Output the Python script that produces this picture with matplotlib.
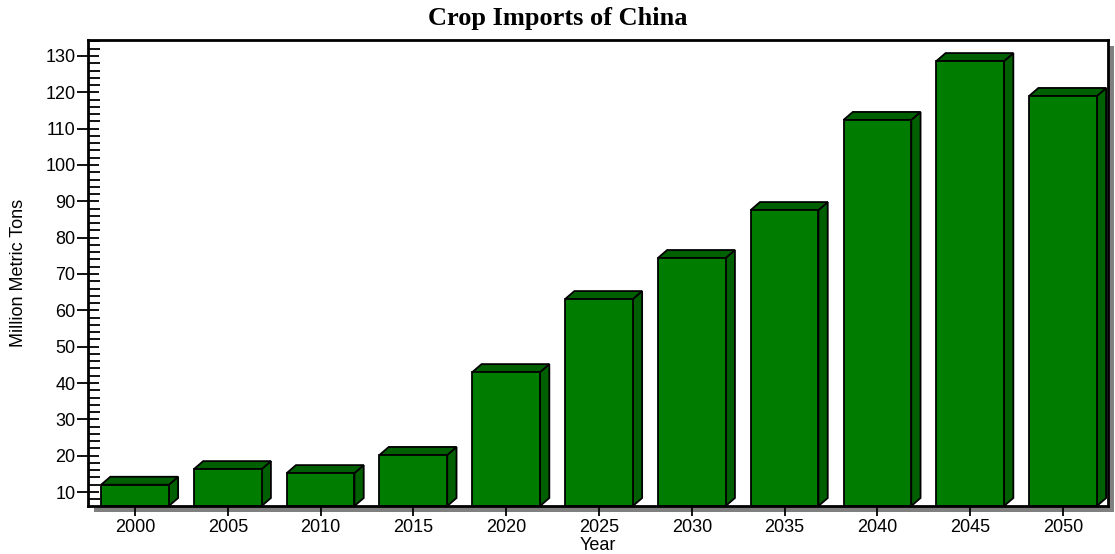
import matplotlib
matplotlib.use("Agg")
import matplotlib.pyplot as plt
import matplotlib.patches as mpatches
from matplotlib.ticker import MultipleLocator

# ── Data ───────────────────────────────────────────────────────────────────────
years = ["2000", "2005", "2010", "2015", "2020", "2025",
         "2030", "2035", "2040", "2045", "2050"]
imports = [12.0, 16.3, 15.2, 20.2, 43.0, 63.1, 74.4, 87.6, 112.4, 128.6, 119.0]

front_col = "#007c00"
dark_col = "#005f00"

# ── Figure ─────────────────────────────────────────────────────────────────────
W, H = 1115, 554
fig = plt.figure(figsize=(W / 100, H / 100), dpi=100, facecolor="white")
left, right, top, bottom = 88, 1108, 40, 506
ax = fig.add_axes([left / W, 1 - bottom / H, (right - left) / W, (bottom - top) / H])

# drop shadow behind the plot frame
shadow = mpatches.Rectangle(((left + 6) / W, 1 - (bottom + 6) / H),
                            (right - left) / W, (bottom - top) / H,
                            transform=fig.transFigure, facecolor="#808080",
                            edgecolor="none", zorder=0)
fig.patches.append(shadow)
ax.set_facecolor("white")
ax.set_zorder(1)

ax.set_xlim(-0.506, 10.485)
ax.set_ylim(6.15, 134.4)

bw = 0.73
dx, dy = 0.10, 2.2
base = 6.15
for i, v in enumerate(imports):
    x0, x1 = i - bw / 2, i + bw / 2
    # side face
    ax.add_patch(mpatches.Polygon([(x1, base), (x1 + dx, base + dy), (x1 + dx, v + dy), (x1, v)],
                                  closed=True, facecolor=dark_col, edgecolor="black",
                                  linewidth=1.3, zorder=2, clip_on=False))
    # top face
    ax.add_patch(mpatches.Polygon([(x0, v), (x0 + dx, v + dy), (x1 + dx, v + dy), (x1, v)],
                                  closed=True, facecolor=dark_col, edgecolor="black",
                                  linewidth=1.3, zorder=2, clip_on=False))
    # front face
    ax.add_patch(mpatches.Rectangle((x0, base), bw, v - base, facecolor=front_col,
                                    edgecolor="black", linewidth=1.3, zorder=3))

ax.set_xticks(range(len(years)))
ax.set_xticklabels(years)
ax.yaxis.set_major_locator(MultipleLocator(10))
ax.yaxis.set_minor_locator(MultipleLocator(2))
ax.set_yticks(range(10, 131, 10))

lbl_font = dict(family="Liberation Sans", size=13)
ax.tick_params(axis="x", direction="inout", length=14, width=1.3, pad=2,
               labelsize=13, labelfontfamily="Liberation Sans")
ax.tick_params(axis="y", which="major", direction="inout", length=16, width=1.3, pad=1,
               labelsize=13, labelfontfamily="Liberation Sans")
ax.tick_params(axis="y", which="minor", direction="in", length=8.5, width=1.3)
for t in ax.get_xticklines():
    t.set_zorder(5)
ax.set_axisbelow(False)

for s in ax.spines.values():
    s.set_linewidth(2)
    s.set_zorder(6)

ax.set_ylabel("Million Metric Tons", fontdict=lbl_font, labelpad=13)
ax.set_xlabel("Year", fontdict=lbl_font, labelpad=1)
fig.text(0.5, 1 - 18 / H, "Crop Imports of China", ha="center", va="center",
         family="Liberation Serif", fontweight="bold", fontsize=19)

plt.savefig("out.png", dpi=100, facecolor="white")
plt.close()
